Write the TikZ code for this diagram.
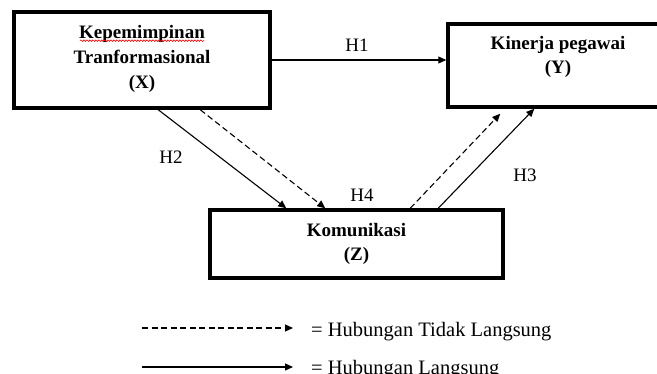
\documentclass[tikz,border=0pt]{standalone}
\usepackage{fontspec}
\setmainfont{Liberation Serif}
\usetikzlibrary{arrows.meta,calc,decorations.pathmorphing}
\begin{document}
\begin{tikzpicture}[x=1pt,y=-1pt,
  box/.style={draw,line width=3.5pt,inner sep=0pt},
  boxtext/.style={font=\fontsize{19}{24}\selectfont\bfseries,align=center,inner sep=0pt},
  hlabel/.style={font=\fontsize{19}{23}\selectfont,inner sep=0pt},
  arr/.style={line width=1.1pt,-{Triangle[length=8pt,width=7pt]}},
  darr/.style={arr,dash pattern=on 6pt off 3.5pt},
  legtext/.style={font=\fontsize{20.5}{24}\selectfont,anchor=base west,inner sep=0pt}]
\useasboundingbox (0,0) rectangle (657,374);
\clip (0,0) rectangle (657,374);
% boxes
\node[box,minimum width=256pt,minimum height=96pt] (X) at (142,60) {};
\node[box,minimum width=220pt,minimum height=83pt] (Y) at (558,65.5) {};
\node[box,minimum width=293pt,minimum height=68pt] (Z) at (356.5,244) {};
% box texts
\node[boxtext,font=\fontsize{19}{25}\selectfont\bfseries] (Xt) at (142,58.5) {Kepemimpinan\\Tranformasional\\(X)};
\node[boxtext] (Yt) at (558,56.5) {Kinerja pegawai\\(Y)};
\node[boxtext] (Zt) at (356.5,244) {Komunikasi\\(Z)};
% spell-check underline
\draw[red,line width=0.6pt,decorate,decoration={snake,amplitude=0.8pt,segment length=3pt}]
  ($(Xt.north)+(-62,16)$) -- ++(124,0);
% connectors
\draw[arr] (X.east) -- (X.east -| Y.west);
\draw[arr] ($(X.south west)+(146,0)$) -- ($(Z.north west)+(78,0)$);
\draw[darr] ($(X.south west)+(188,0)$) -- ($(Z.north west)+(117,0)$);
\draw[darr] ($(Z.north west)+(202,0)$) -- ($(Y.south west)+(54,5)$);
\draw[arr] ($(Z.north west)+(230,0)$) -- ($(Y.south west)+(88,0)$);
% labels
\node[hlabel] (h1) at (357,45) {H1};
\node[hlabel] (h2) at (171,157.5) {H2};
\node[hlabel] (h3) at (525,175) {H3};
\node[hlabel] (h4) at (362,195) {H4};
% legend
\coordinate (d1) at (142,328);
\coordinate (d2) at (293,328);
\coordinate (s1) at (142,367);
\coordinate (s2) at (293,367);
\draw[darr] (d1) -- (d2);
\draw[arr] (s1) -- (s2);
\node[legtext] (l1) at (311,337) {= Hubungan Tidak Langsung};
\node[legtext] (l2) at (311,375) {= Hubungan Langsung};
\end{tikzpicture}
\end{document}
